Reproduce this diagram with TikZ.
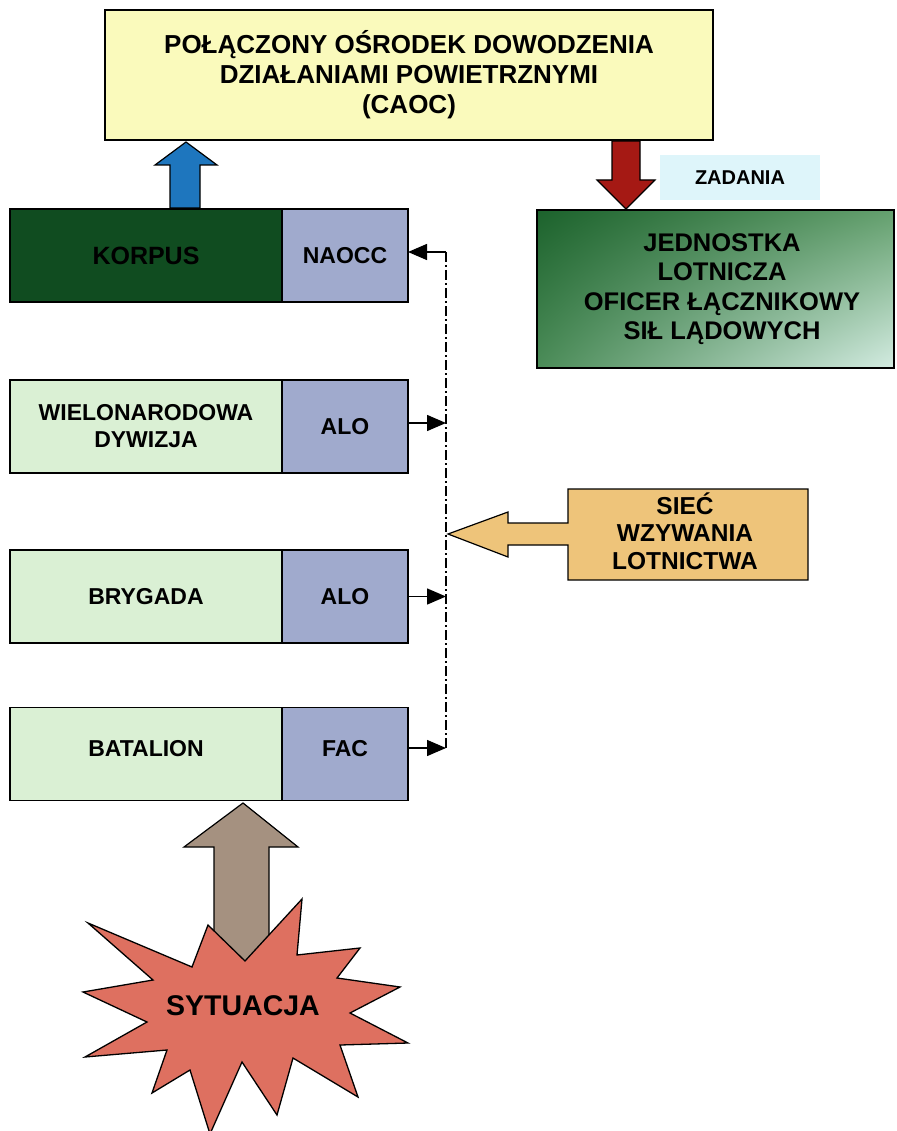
\documentclass[tikz,border=0pt]{standalone}
\usepackage{fontspec}
\setmainfont{Liberation Sans}
\usetikzlibrary{arrows.meta,shadings}
\definecolor{topyel}{RGB}{250,250,188}
\definecolor{bluearr}{RGB}{30,118,190}
\definecolor{redarr}{RGB}{165,25,20}
\definecolor{zadc}{RGB}{222,245,250}
\definecolor{korpc}{RGB}{16,76,32}
\definecolor{grayblue}{RGB}{160,170,205}
\definecolor{palegreen}{RGB}{218,240,212}
\definecolor{orangec}{RGB}{238,196,122}
\definecolor{brownarr}{RGB}{165,145,128}
\definecolor{starc}{RGB}{222,112,96}
\definecolor{gUL}{RGB}{28,98,44}
\definecolor{gUR}{RGB}{100,160,110}
\definecolor{gLL}{RGB}{75,140,88}
\definecolor{gLR}{RGB}{212,236,226}
\begin{document}
\begin{tikzpicture}[x=1pt,y=-1pt,
  every node/.style={inner sep=0pt, outer sep=0pt},
  txt/.style={font=\fontsize{23}{27}\selectfont\bfseries, align=center},
  boxframe/.style={draw=black, line width=1.4pt},
  unitbox/.style={boxframe, txt, minimum width=272pt, minimum height=93pt},
  sidebox/.style={boxframe, txt, fill=grayblue, minimum width=126pt, minimum height=93pt},
  blockarrow/.style={draw=black, line width=1.2pt, line join=miter},
  linkarrow/.style={line width=1.4pt, -{Triangle[length=19pt,width=16pt]}},
  dashdotline/.style={line width=1.4pt, dash pattern=on 10pt off 3pt on 2pt off 3pt}
]
\useasboundingbox (0,0) rectangle (896,1131);
\fill[white] (0,0) rectangle (896,1131);

% top box
\node[boxframe, fill=topyel, minimum width=608pt, minimum height=130pt,
      font=\fontsize{26}{30}\selectfont\bfseries, align=center] (caoc) at (409,75)
  {POŁĄCZONY OŚRODEK DOWODZENIA\\DZIAŁANIAMI POWIETRZNYMI\\(CAOC)};

% ZADANIA label
\node[fill=zadc, minimum width=160pt, minimum height=45pt,
      font=\fontsize{20}{24}\selectfont\bfseries] (zadania) at (740,177.5) {ZADANIA};

% green gradient box
\shade[upper left=gUL, upper right=gUR, lower left=gLL, lower right=gLR]
  (537,210) rectangle (894,368);
\node[boxframe, minimum width=357pt, minimum height=158pt] (jednostka) at (715.5,289) {};
\node[font=\fontsize{25.5}{29.5}\selectfont\bfseries, align=center] (jedtxt) at (722,289)
  {JEDNOSTKA\\LOTNICZA\\OFICER ŁĄCZNIKOWY\\SIŁ LĄDOWYCH};

% rows
\node[unitbox, fill=korpc, font=\fontsize{25}{29}\selectfont\bfseries] (korpus) at (146,255.5) {KORPUS};
\node[sidebox] (naocc) at (345,255.5) {NAOCC};
\node[unitbox, fill=palegreen] (wielo) at (146,426.5) {WIELONARODOWA\\DYWIZJA};
\node[sidebox] (alo1) at (345,426.5) {ALO};
\node[unitbox, fill=palegreen] (brygada) at (146,596.5) {BRYGADA};
\node[sidebox] (alo2) at (345,596.5) {ALO};
\node[unitbox, fill=palegreen, text depth=12pt] (batalion) at (146,754) {BATALION};
\node[sidebox, text depth=12pt] (fac) at (345,754) {FAC};

% blue arrow (KORPUS -> CAOC)
\filldraw[blockarrow, fill=bluearr]
  (186,142) -- (217,165) -- (200,165) -- (200,208) -- (170,208) -- (170,165) -- (155,165) -- cycle;

% red arrow (CAOC -> JEDNOSTKA)
\filldraw[blockarrow, fill=redarr]
  (612,141) -- (640,141) -- (640,180) -- (655,180) -- (626,209) -- (597,180) -- (612,180) -- cycle;

% call network line
\coordinate (ltop) at (446,252);
\coordinate (lbot) at (446,748);
\draw[dashdotline] (ltop) -- (lbot);
\draw[linkarrow] (ltop) -- ([yshift=3.5pt]naocc.east);
\draw[linkarrow] ([yshift=3.5pt]alo1.east) -- ([yshift=3.5pt]alo1.east -| ltop);
\draw[linkarrow] (alo2.east) -- (alo2.east -| ltop);
\draw[linkarrow] ([yshift=6pt]fac.east) -- ([yshift=6pt]fac.east -| ltop);

% orange arrow with box
\filldraw[blockarrow, fill=orangec]
  (448,534) -- (508,512) -- (508,523) -- (568,523) -- (568,489) -- (808,489)
  -- (808,580) -- (568,580) -- (568,545) -- (508,545) -- (508,557) -- cycle;
\node[font=\fontsize{24.5}{27.5}\selectfont\bfseries, align=center] (siec) at (685,531)
  {SIEĆ\\WZYWANIA\\LOTNICTWA};

% brown arrow (SYTUACJA -> BATALION)
\filldraw[blockarrow, fill=brownarr]
  (243,803) -- (298,847) -- (269,847) -- (269,975) -- (214,975) -- (214,847) -- (184,847) -- cycle;

% star
\filldraw[draw=black, line width=1.3pt, fill=starc, line join=miter]
  (88,923) -- (192,967) -- (208,925) -- (245,961) -- (302,899) -- (297,955)
  -- (360,948) -- (337,978) -- (400,987) -- (350,1013) -- (408,1043) -- (340,1045)
  -- (358,1097) -- (293,1058) -- (277,1115) -- (242,1062) -- (210,1134) -- (190,1070)
  -- (152,1093) -- (167,1050) -- (85,1057) -- (147,1022) -- (83,992) -- (153,980) -- cycle;
\node[font=\fontsize{28.5}{32}\selectfont\bfseries] (sytuacja) at (243,1006) {SYTUACJA};
\end{tikzpicture}
\end{document}
